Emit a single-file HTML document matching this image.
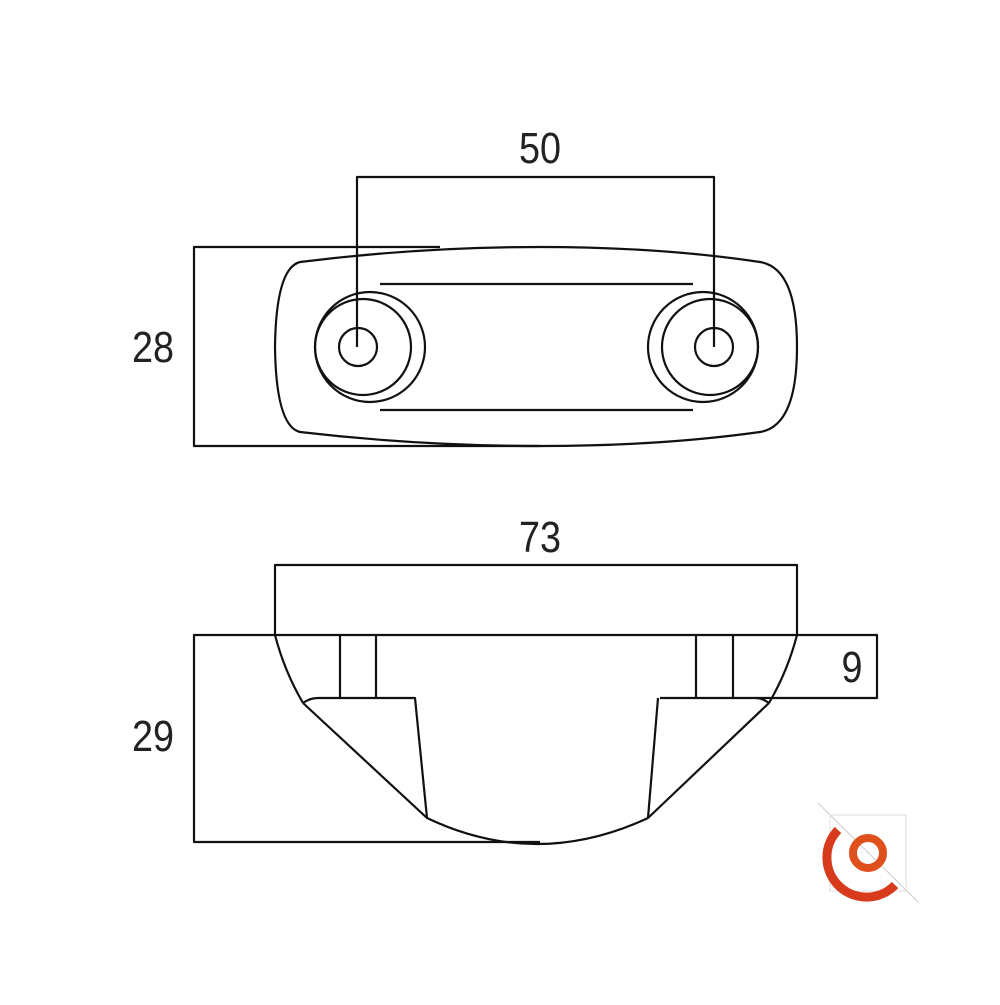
<!DOCTYPE html>
<html><head><style>body{margin:0;background:#fff}</style></head><body>
<svg width="1000" height="1000" viewBox="0 0 1000 1000" xmlns="http://www.w3.org/2000/svg">
<g fill="none" stroke="#111" stroke-width="2.2" stroke-linejoin="round">
<polyline points="440,247 194,247 194,446 540,446"/>
<path d="M300,262 Q420,247 540,247 Q660,247 760,262 Q797,268 797,347 Q797,426 760,432 Q660,446 540,446 Q420,446 300,432 Q276,426 275,347 Q276,268 300,262 Z"/>
<circle cx="363" cy="347" r="48"/><circle cx="370" cy="347" r="55"/><circle cx="358" cy="347" r="19"/>
<circle cx="710" cy="347" r="48"/><circle cx="703" cy="347" r="55"/><circle cx="714" cy="347" r="19"/>
<line x1="380" y1="284" x2="693" y2="284"/><line x1="380" y1="410" x2="693" y2="410"/>
<polyline points="357,347 357,177 714,177 714,347"/>
<polyline points="275,635 275,565 797,565 797,635"/>
<polyline points="540,842 194,842 194,635 877,635 877,698 660,698"/>
<path d="M275,635 A268,268 0 0 0 303,703"/>
<path d="M797,635 A268,268 0 0 1 769,703"/>
<path d="M303,703 Q310,698 318,698 L415,698 L427,818"/>
<path d="M769,703 Q762,698 756,698"/>
<path d="M303,703 L427,818 Q536,870 648,818 L769,703"/>
<path d="M658,698 L648,818"/>
<line x1="340" y1="635" x2="340" y2="698"/><line x1="376" y1="635" x2="376" y2="698"/>
<line x1="696" y1="635" x2="696" y2="698"/><line x1="733" y1="635" x2="733" y2="698"/>
</g>
<g font-family="Liberation Sans, sans-serif" font-size="44" fill="#222" text-anchor="middle">
<text x="540" y="163" textLength="42" lengthAdjust="spacingAndGlyphs">50</text>
<text x="153" y="362" textLength="42" lengthAdjust="spacingAndGlyphs">28</text>
<text x="540" y="552" textLength="42" lengthAdjust="spacingAndGlyphs">73</text>
<text x="153" y="751" textLength="42" lengthAdjust="spacingAndGlyphs">29</text>
<text x="852" y="682" textLength="21" lengthAdjust="spacingAndGlyphs">9</text>
</g>
<g>
<line x1="818" y1="803" x2="918" y2="902" stroke="#ccc" stroke-width="1"/>
<rect x="830" y="815" width="76" height="76" fill="none" stroke="#ddd" stroke-width="1"/>
<path d="M838,830 A36,36 0 0 0 895,885" fill="none" stroke="#d83a1c" stroke-width="9"/>
<circle cx="868" cy="853" r="15" fill="none" stroke="#e0501c" stroke-width="8"/>
</g>
</svg>
</body></html>
